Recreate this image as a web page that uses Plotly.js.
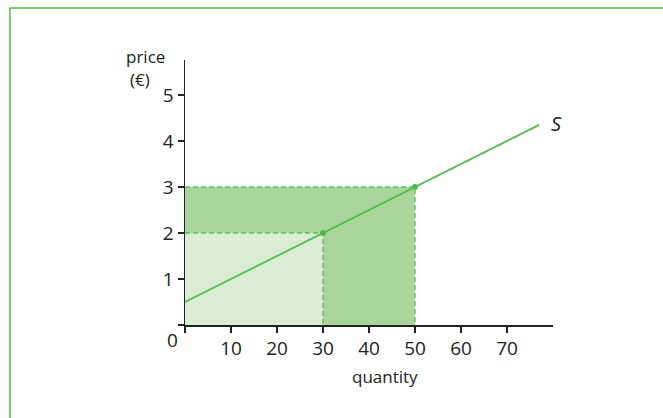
<!DOCTYPE html>
<html><head><meta charset="utf-8">
<script src="https://cdn.plot.ly/plotly-3.0.1.min.js"></script>
<style>html,body{margin:0;padding:0;background:#fff}#chart{width:663px;height:418px}</style>
</head><body><div id="chart"></div>
<script>
// supply curve S
const supplyQ = [0, 77];
const supplyP = [0.5, 4.35];
// highlighted points on S
const pointQ = [30, 50];
const pointP = [2, 3];
// revenue rectangles (quantity, price)
const smallRectQ = [0, 30, 30, 0, 0];
const smallRectP = [0, 0, 2, 2, 0];
const bigRectQ = [0, 50, 50, 0, 0];
const bigRectP = [0, 0, 3, 3, 0];
// dashed guides
const guideSmallQ = [0, 30, 30];
const guideSmallP = [2, 2, 0];
const guideBigQ = [0, 50, 50];
const guideBigP = [3, 3, 0];
// ticks
const xTicks = [0, 10, 20, 30, 40, 50, 60, 70];
const xTickText = ['', '10', '20', '30', '40', '50', '60', '70'];
const yTicks = [0, 1, 2, 3, 4, 5];
const yTickText = ['', '1', '2', '3', '4', '5'];

const green = '#4dbd4d';
const font = {family: 'Open Sans, sans-serif', size: 17, color: '#222'};
const tickFont = {family: 'Open Sans, sans-serif', size: 19, color: '#222'};

const traces = [
  {x: bigRectQ, y: bigRectP, mode: 'lines', fill: 'toself', fillcolor: '#a9d59b', line: {width: 0}, hoverinfo: 'skip'},
  {x: smallRectQ, y: smallRectP, mode: 'lines', fill: 'toself', fillcolor: '#dbecd5', line: {width: 0}, hoverinfo: 'skip'},
  {x: guideBigQ, y: guideBigP, mode: 'lines', line: {color: '#52c052', width: 1.3, dash: '5px,3px'}},
  {x: guideSmallQ, y: guideSmallP, mode: 'lines', line: {color: '#52c052', width: 1.3, dash: '5px,3px'}},
  {x: supplyQ, y: supplyP, mode: 'lines', line: {color: green, width: 1.8}},
  {x: pointQ, y: pointP, mode: 'markers', marker: {color: green, size: 6}}
];

const layout = {
  width: 663, height: 418,
  margin: {l: 185, r: 110, t: 60, b: 93},
  paper_bgcolor: '#fff', plot_bgcolor: 'rgba(0,0,0,0)',
  showlegend: false,
  font: font,
  xaxis: {
    range: [0, 80], showgrid: false, zeroline: false,
    showline: true, linecolor: '#222', linewidth: 1.5,
    ticks: 'outside', ticklen: 6, tickwidth: 1.5, tickcolor: '#222',
    tickvals: xTicks, ticktext: xTickText, tickfont: tickFont, fixedrange: true
  },
  yaxis: {
    range: [0, 5.76], showgrid: false, zeroline: false,
    showline: true, linecolor: '#222', linewidth: 1.5,
    ticks: 'outside', ticklen: 6, tickwidth: 1.5, tickcolor: '#222',
    tickvals: yTicks, ticktext: yTickText, tickfont: tickFont, fixedrange: true
  },
  annotations: [
    {xref: 'paper', yref: 'paper', x: 0.99, y: 0.76, text: '<i>S</i>', showarrow: false, xanchor: 'left', yanchor: 'middle', font: {family: 'Open Sans, sans-serif', size: 20, color: '#222'}},
    {xref: 'paper', yref: 'paper', x: -0.106, y: 1.013, text: 'price', showarrow: false, xanchor: 'center', yanchor: 'middle', font: font},
    {xref: 'paper', yref: 'paper', x: -0.122, y: 0.925, text: '(€)', showarrow: false, xanchor: 'center', yanchor: 'middle', font: font},
    {xref: 'paper', yref: 'paper', x: 0.543, y: -0.195, text: 'quantity', showarrow: false, xanchor: 'center', yanchor: 'middle', font: font},
    {xref: 'paper', yref: 'paper', x: -0.035, y: -0.055, text: '0', showarrow: false, xanchor: 'center', yanchor: 'middle', font: tickFont}
  ],
  shapes: [
    {type: 'path', xref: 'paper', yref: 'paper', path: 'M -0.4755 -0.4 L -0.4755 1.196 L 1.4 1.196', line: {color: '#4cc04c', width: 1.5}}
  ]
};
Plotly.newPlot('chart', traces, layout, {displayModeBar: false, staticPlot: true});
</script></body></html>
